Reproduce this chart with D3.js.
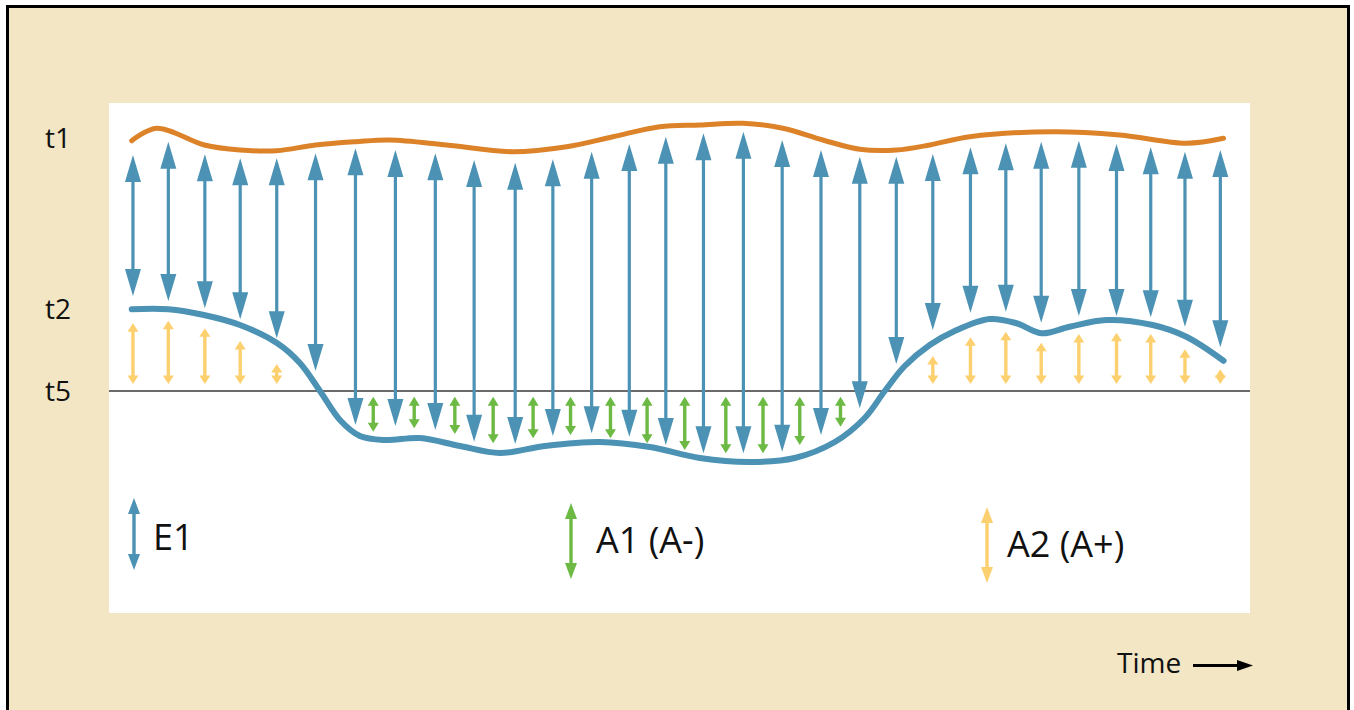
<!DOCTYPE html>
<html>
<head>
<meta charset="utf-8">
<script src="https://cdn.jsdelivr.net/npm/d3@7"></script>
<style>
  html, body { margin: 0; padding: 0; background: #ffffff; }
  svg { display: block; }
  text { font-family: "Open Sans", "Noto Sans", sans-serif; fill: #111; }
</style>
</head>
<body>
<svg id="chart" width="1354" height="710"></svg>
<script>
// ---------- DATA (time 0..100, level: t5 = 0, t1 ≈ 100) ----------
const levelLabels = ["t1", "t2", "t5"];
const levelLabelValues = [101.2, 32.8, 0];

// Upper (orange) curve – t1
const t1Time  = [1.99, 4.18, 8.35, 11.48, 14.69, 18.11, 21.61, 24.62, 29.59, 35.40, 40.10, 44.16, 48.27, 51.78, 55.55, 59.05, 62.56, 65.80, 69.01, 71.93, 75.43, 82.71, 88.58, 94.42, 97.68];
const t1Level = [100.1, 105.1, 98.4, 96.4, 96.1, 98.4, 99.7, 100.4, 98.4, 95.7, 97.7, 101.7, 105.7, 106.4, 107.1, 105.1, 100.4, 96.7, 96.4, 98.4, 101.7, 103.7, 102.4, 99.1, 101.1];

// Lower (blue) curve – t2
const t2Time  = [1.99, 5.20, 8.32, 11.48, 14.72, 16.73, 18.49, 20.24, 21.99, 24.18, 27.25, 30.76, 34.26, 38.20, 43.02, 47.40, 51.78, 56.16, 60.10, 63.61, 66.23, 67.99, 69.74, 71.93, 74.12, 77.18, 79.53, 81.72, 84.19, 87.41, 91.47, 94.42, 97.68];
const t2Level = [32.7, 32.7, 30.4, 26.4, 19.2, 11.2, 0.0, -11.6, -18.0, -19.6, -18.8, -22.0, -24.8, -22.0, -20.4, -22.4, -26.8, -28.4, -26.8, -20.4, -10.8, 0.0, 10.0, 18.4, 24.0, 28.8, 27.1, 23.1, 25.7, 28.4, 26.4, 21.7, 12.1];

// E1 arrows (blue, double-headed)
const e1Time   = [2.1, 5.2, 8.4, 11.5, 14.7, 18.1, 21.6, 25.1, 28.6, 32.0, 35.6, 38.9, 42.3, 45.6, 48.8, 52.1, 55.6, 59.0, 62.4, 65.8, 69.0, 72.2, 75.5, 78.6, 81.7, 85.0, 88.3, 91.3, 94.3, 97.4];
const e1Top    = [94.4, 99.7, 94.7, 93.1, 93.1, 95.1, 97.1, 96.4, 95.1, 92.4, 91.3, 92.7, 95.7, 98.8, 101.7, 103.1, 103.7, 100.4, 96.4, 93.7, 93.7, 94.8, 97.5, 99.1, 99.7, 100.1, 98.8, 97.5, 95.7, 96.4];
const e1Bottom = [38.0, 36.0, 33.1, 28.7, 21.1, 8.0, -13.6, -14.0, -15.6, -20.3, -21.2, -18.0, -16.9, -18.3, -21.6, -24.9, -24.9, -24.3, -17.6, -6.9, 10.8, 24.4, 31.3, 31.7, 27.3, 30.0, 30.0, 29.5, 25.7, 17.5];

// A1 (A-) arrows (green)
const a1Time   = [23.16, 26.75, 30.31, 33.67, 37.17, 40.45, 43.95, 47.16, 50.46, 54.06, 57.32, 60.54, 64.11];
const a1Top    = [-2.3, -2.3, -2.3, -2.3, -2.3, -2.3, -2.3, -2.3, -2.3, -2.3, -2.3, -2.3, -2.3];
const a1Bottom = [-16.3, -14.9, -17.2, -20.9, -18.9, -17.6, -18.9, -20.9, -23.6, -24.9, -24.9, -21.6, -14.3];

// A2 (A+) arrows (yellow)
const a2Time   = [2.1, 5.2, 8.4, 11.5, 14.7, 72.2, 75.5, 78.6, 81.7, 85.0, 88.3, 91.3, 94.3, 97.4];
const a2Top    = [27.1, 28.1, 25.1, 20.0, 10.8, 14.0, 21.5, 23.7, 19.3, 22.8, 23.3, 22.8, 16.7, 8.7];
const a2Bottom = [2.8, 2.8, 2.8, 2.8, 2.8, 2.8, 2.8, 2.8, 2.8, 2.8, 2.8, 2.8, 2.8, 2.8];

// Legend
const legendLabels = ["E1", "A1 (A-)", "A2 (A+)"];
const timeLabel = "Time";

// ---------- STYLE ----------
const C = {
  bg: "#f3e6c4", blue: "#4b92b4", orange: "#dc8228", green: "#6cb944",
  yellow: "#fcd06e", gray: "#6a6a6a"
};

const svg = d3.select("#chart");
const W = 1354, H = 710;
const panel = { x0: 109, y0: 103, x1: 1250, y1: 613 };

const x = d3.scaleLinear().domain([0, 100]).range([panel.x0, panel.x1]);
const y = d3.scaleLinear().domain([0, 100]).range([391, 141]);

// background + border
svg.append("rect").attr("x", 0).attr("y", 0).attr("width", W).attr("height", H).attr("fill", "#ffffff");
svg.append("rect").attr("x", 7.5).attr("y", 6.5).attr("width", 1341).attr("height", 720)
  .attr("fill", C.bg).attr("stroke", "#000").attr("stroke-width", 3);
svg.append("rect").attr("x", panel.x0).attr("y", panel.y0)
  .attr("width", panel.x1 - panel.x0).attr("height", panel.y1 - panel.y0).attr("fill", "#ffffff");

// level labels
svg.append("g").selectAll("text").data(levelLabels).join("text")
  .attr("x", 45).attr("y", (d, i) => y(levelLabelValues[i]) + 10)
  .attr("font-size", 28).text(d => d);

// t5 line
svg.append("line").attr("x1", panel.x0).attr("x2", panel.x1)
  .attr("y1", y(0)).attr("y2", y(0))
  .attr("stroke", C.gray).attr("stroke-width", 2.2);

// curves
const line = d3.line().x(d => x(d[0])).y(d => y(d[1])).curve(d3.curveCatmullRom.alpha(0.5));
svg.append("path").datum(t1Time.map((t, i) => [t, t1Level[i]])).attr("d", line)
  .attr("fill", "none").attr("stroke", C.orange).attr("stroke-width", 5).attr("stroke-linecap", "round");
svg.append("path").datum(t2Time.map((t, i) => [t, t2Level[i]])).attr("d", line)
  .attr("fill", "none").attr("stroke", C.blue).attr("stroke-width", 6).attr("stroke-linecap", "round");

// double-headed arrow (pixel tips)
function dArrow(g, px, yTop, yBot, hw, hl, color, sw) {
  const shaftTop = yTop + hl * 0.8, shaftBot = yBot - hl * 0.8;
  if (shaftBot > shaftTop) {
    g.append("line").attr("x1", px).attr("x2", px).attr("y1", shaftTop).attr("y2", shaftBot)
      .attr("stroke", color).attr("stroke-width", sw);
  }
  g.append("path").attr("d", `M${px},${yTop} L${px - hw / 2},${yTop + hl} L${px + hw / 2},${yTop + hl} Z`).attr("fill", color);
  g.append("path").attr("d", `M${px},${yBot} L${px - hw / 2},${yBot - hl} L${px + hw / 2},${yBot - hl} Z`).attr("fill", color);
}

const gE1 = svg.append("g");
e1Time.forEach((t, i) => dArrow(gE1, x(t), y(e1Top[i]), y(e1Bottom[i]), 16, 27, C.blue, 3.2));
const gA1 = svg.append("g");
a1Time.forEach((t, i) => dArrow(gA1, x(t), y(a1Top[i]), y(a1Bottom[i]), 11, 9, C.green, 3.4));
const gA2 = svg.append("g");
a2Time.forEach((t, i) => dArrow(gA2, x(t), y(a2Top[i]), y(a2Bottom[i]), 11, 8.5, C.yellow, 3.4));

// legend
const legendPos = [
  { ax: 134, ay0: 498, ay1: 570, tx: 153, ty: 550, color: C.blue },
  { ax: 571, ay0: 503, ay1: 579, tx: 596, ty: 553, color: C.green },
  { ax: 987, ay0: 507, ay1: 583, tx: 1007, ty: 557, color: C.yellow }
];
const gL = svg.append("g");
legendLabels.forEach((lab, i) => {
  const p = legendPos[i];
  dArrow(gL, p.ax, p.ay0, p.ay1, 12, 16, p.color, 3.4);
  gL.append("text").attr("x", p.tx).attr("y", p.ty).attr("font-size", 36).text(lab);
});

// Time arrow
svg.append("text").attr("x", 1117).attr("y", 673).attr("font-size", 28).text(timeLabel);
svg.append("line").attr("x1", 1193).attr("x2", 1240).attr("y1", 665.5).attr("y2", 665.5)
  .attr("stroke", "#000").attr("stroke-width", 3);
svg.append("path").attr("d", "M1253,665.5 L1237,660 L1237,671 Z").attr("fill", "#000");
</script>
</body>
</html>
